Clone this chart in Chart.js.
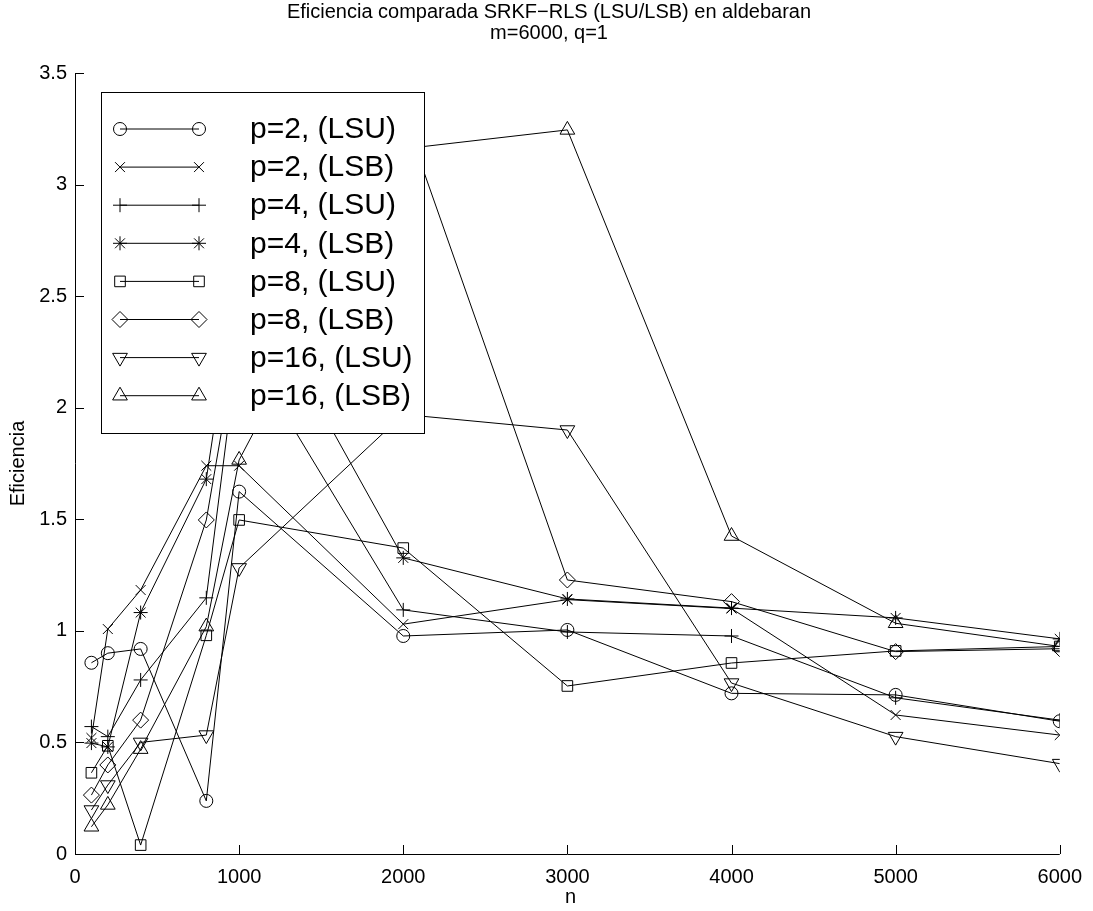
<!DOCTYPE html>
<html>
<head>
<meta charset="utf-8">
<script src="https://cdn.jsdelivr.net/npm/chart.js@4.4.0/dist/chart.umd.min.js"></script>
<style>
  html, body { margin: 0; padding: 0; background: #fff; }
  #wrap { width: 1093px; height: 911px; }
</style>
</head>
<body>
<div id="wrap"><canvas id="eff" width="1093" height="911"></canvas></div>
<script>
var nValues = [100, 200, 400, 800, 1000, 2000, 3000, 4000, 5000, 6000];
var xTicks = [0, 1000, 2000, 3000, 4000, 5000, 6000];
var yTicks = [0, 0.5, 1, 1.5, 2, 2.5, 3, 3.5];

var labels = ['p=2, (LSU)', 'p=2, (LSB)', 'p=4, (LSU)', 'p=4, (LSB)',
              'p=8, (LSU)', 'p=8, (LSB)', 'p=16, (LSU)', 'p=16, (LSB)'];

var p2LSU  = [0.857, 0.90, 0.919, 0.238, 1.624, 0.977, 1.004, 0.720, 0.713, 0.595];
var p2LSB  = [0.52, 1.008, 1.183, 1.74, 1.74, 1.03, 1.14, 1.10, 0.623, 0.533];
var p4LSU  = [0.571, 0.526, 0.78, 1.148, 2.31, 1.094, 0.995, 0.977, 0.70, 0.60];
var p4LSB  = [0.497, 0.48, 1.082, 1.68, 2.65, 1.327, 1.143, 1.102, 1.058, 0.964];
var p8LSU  = [0.364, 0.485, 0.04, 0.98, 1.497, 1.371, 0.753, 0.856, 0.91, 0.93];
var p8LSB  = [0.264, 0.399, 0.60, 1.497, 2.35, 3.32, 1.228, 1.131, 0.907, 0.92];
var p16LSU = [0.197, 0.309, 0.50, 0.533, 1.282, 1.97, 1.90, 0.766, 0.526, 0.405];
var p16LSB = [0.122, 0.22, 0.47, 1.019, 1.766, 3.16, 3.245, 1.425, 1.034, 0.93];

var series = [p2LSU, p2LSB, p4LSU, p4LSB, p8LSU, p8LSB, p16LSU, p16LSB];
var markers = [
  {style: 'circle', r: 6.5, rot: 0},
  {style: 'crossRot', r: 7, rot: 0},
  {style: 'cross', r: 7, rot: 0},
  {style: 'star', r: 7, rot: 0},
  {style: 'rect', r: 7.5, rot: 0},
  {style: 'rectRot', r: 8, rot: 0},
  {style: 'triangle', r: 8.5, rot: 180},
  {style: 'triangle', r: 8.5, rot: 0}
];

var PLOT = {left: 75, right: 1066, top: 73, bottom: 854};
var FONT = '"Liberation Sans", Arial, Helvetica, sans-serif';

function toPoints(arr) {
  return arr.map(function (v, i) { return {x: nValues[i], y: v}; });
}

var datasets = series.map(function (s, i) {
  return {
    label: labels[i],
    data: toPoints(s),
    borderColor: '#000',
    backgroundColor: 'transparent',
    borderWidth: 1,
    pointStyle: markers[i].style,
    pointRadius: markers[i].r,
    pointRotation: markers[i].rot,
    pointBorderColor: '#000',
    pointBackgroundColor: 'transparent',
    pointBorderWidth: 1,
    tension: 0
  };
});

// axes lines, inward ticks, titles and the boxed legend
var decor = {
  id: 'decor',
  beforeDatasetsDraw: function (chart) {
    var ctx = chart.ctx, xs = chart.scales.x, ys = chart.scales.y;
    var a = chart.chartArea;
    ctx.save();
    ctx.strokeStyle = '#000';
    ctx.lineWidth = 1;
    ctx.beginPath();
    ctx.moveTo(a.left + 0.5, a.top);
    ctx.lineTo(a.left + 0.5, a.bottom + 0.5);
    ctx.lineTo(a.right, a.bottom + 0.5);
    xTicks.forEach(function (t) {
      var px = Math.round(xs.getPixelForValue(t)) + 0.5;
      ctx.moveTo(px, a.bottom);
      ctx.lineTo(px, a.bottom - 9);
    });
    yTicks.forEach(function (t) {
      var py = Math.round(ys.getPixelForValue(t)) + 0.5;
      ctx.moveTo(a.left, py);
      ctx.lineTo(a.left + 9, py);
    });
    ctx.stroke();
    ctx.restore();
  },
  afterDatasetsDraw: function (chart) {
    var ctx = chart.ctx;
    ctx.save();
    // legend box
    var bx = 101, by = 92, bw = 323, bh = 341;
    ctx.fillStyle = '#fff';
    ctx.fillRect(bx, by, bw, bh);
    ctx.strokeStyle = '#000';
    ctx.lineWidth = 1;
    ctx.strokeRect(bx + 0.5, by + 0.5, bw, bh);
    ctx.font = '30px ' + FONT;
    ctx.textBaseline = 'middle';
    ctx.textAlign = 'left';
    ctx.fillStyle = '#000';
    for (var i = 0; i < labels.length; i++) {
      var y = 129 + i * 38.1;
      ctx.beginPath();
      ctx.moveTo(120, y);
      ctx.lineTo(199, y);
      ctx.stroke();
      var opts = {pointStyle: markers[i].style, radius: markers[i].r,
                  rotation: markers[i].rot, borderWidth: 1};
      ctx.strokeStyle = '#000';
      ctx.fillStyle = 'transparent';
      Chart.helpers.drawPoint(ctx, opts, 120, y);
      Chart.helpers.drawPoint(ctx, opts, 199, y);
      ctx.fillStyle = '#000';
      ctx.fillText(labels[i], 250, y + 1);
    }
    // titles
    ctx.textAlign = 'center';
    ctx.font = '20px ' + FONT;
    ctx.fillText('Eficiencia comparada SRKF\u2212RLS (LSU/LSB) en aldebaran', 549, 12);
    ctx.fillText('m=6000, q=1', 549, 33);
    ctx.fillText('n', (PLOT.left + PLOT.right) / 2, 897);
    ctx.translate(18, (PLOT.top + PLOT.bottom) / 2);
    ctx.rotate(-Math.PI / 2);
    ctx.fillText('Eficiencia', 0, 0);
    ctx.restore();
  }
};

new Chart(document.getElementById('eff'), {
  type: 'line',
  data: {datasets: datasets},
  options: {
    responsive: false,
    animation: false,
    events: [],
    layout: {
      autoPadding: false,
      padding: {left: 0, right: 1093 - PLOT.right, top: PLOT.top, bottom: 0}
    },
    plugins: {legend: {display: false}, tooltip: {enabled: false}, title: {display: false}},
    scales: {
      x: {
        type: 'linear',
        min: 0, max: 6000,
        afterFit: function (s) { s.height = 911 - PLOT.bottom; },
        afterBuildTicks: function (s) { s.ticks = xTicks.map(function (v) { return {value: v}; }); },
        grid: {display: false, drawTicks: false},
        border: {display: false},
        ticks: {
          color: '#000', padding: 11,
          font: {family: FONT, size: 20},
          maxRotation: 0,
          callback: function (v) { return String(v); }
        }
      },
      y: {
        type: 'linear',
        min: 0, max: 3.5,
        afterFit: function (s) { s.width = PLOT.left; },
        afterBuildTicks: function (s) { s.ticks = yTicks.map(function (v) { return {value: v}; }); },
        grid: {display: false, drawTicks: false},
        border: {display: false},
        ticks: {
          color: '#000', padding: 8,
          font: {family: FONT, size: 20},
          callback: function (v) { return String(v); }
        }
      }
    }
  },
  plugins: [decor]
});
</script>
</body>
</html>
